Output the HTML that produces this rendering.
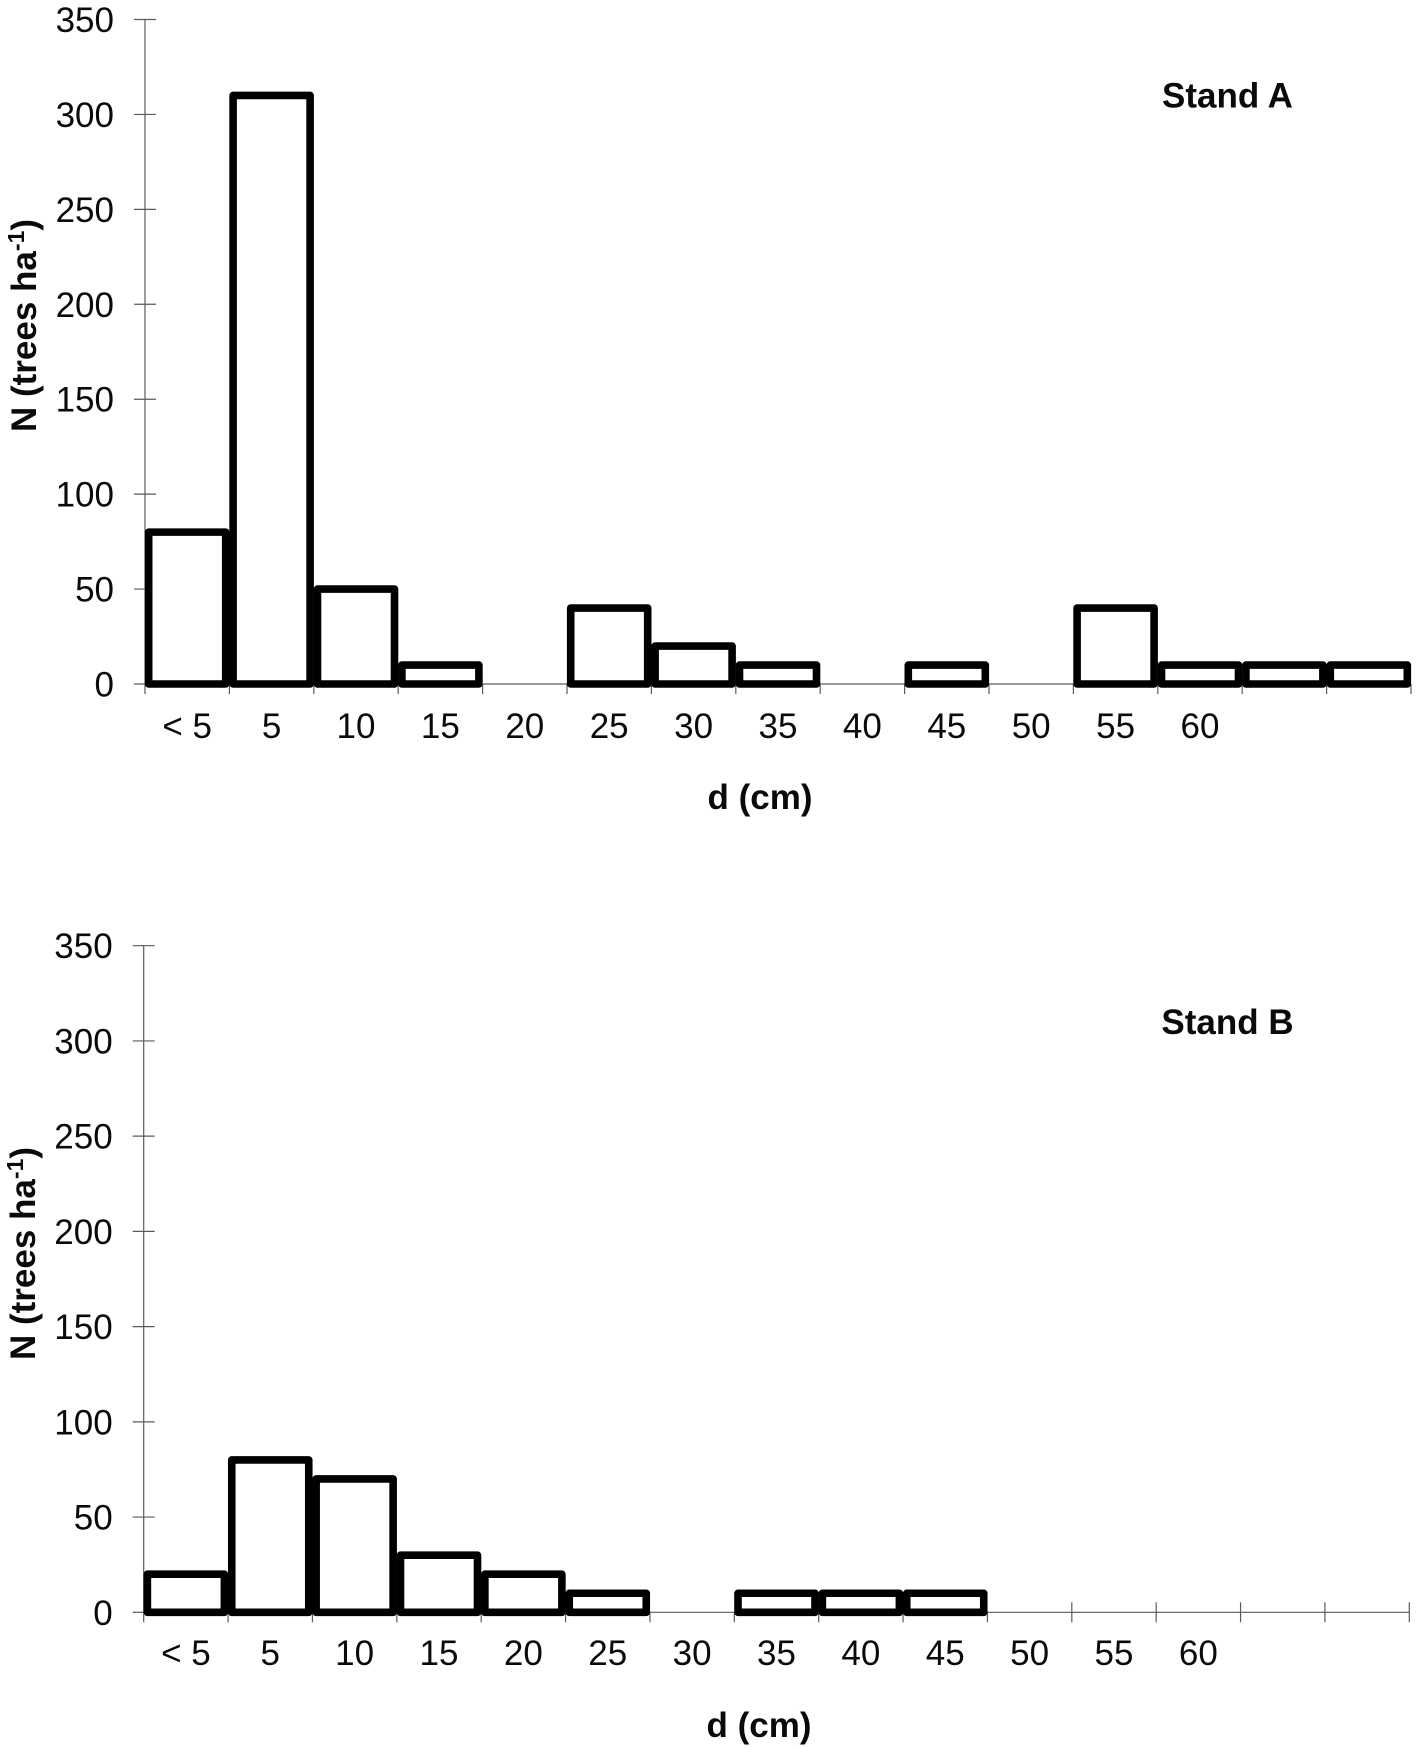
<!DOCTYPE html>
<html lang="en">
<head>
<meta charset="utf-8">
<title>Diameter distribution for Stand A and Stand B</title>
<style>
  html, body { margin: 0; padding: 0; background: #fff; }
  svg { display: block; }
  text { font-family: "Liberation Sans", Arial, sans-serif; fill: #0a0a0a; }
  .tick-label { font-size: 35px; }
  .title { font-size: 35px; font-weight: bold; }
</style>
</head>
<body>
<svg id="chart" xmlns="http://www.w3.org/2000/svg" width="1418" height="1749" viewBox="0 0 1418 1749">
  <rect x="0" y="0" width="1418" height="1749" fill="#ffffff"/>
  <g id="panel-a">
    <text class="title" x="1227.5" y="107.5" text-anchor="middle">Stand A</text>
    <text class="title" x="760" y="809" text-anchor="middle">d (cm)</text>
    <text class="title" transform="translate(36 432) rotate(-90)">N (trees ha<tspan font-size="23" dy="-12">-1</tspan><tspan dy="12">)</tspan></text>
  </g>
  <g id="panel-b">
    <text class="title" x="1227.5" y="1034" text-anchor="middle">Stand B</text>
    <text class="title" x="759" y="1737" text-anchor="middle">d (cm)</text>
    <text class="title" transform="translate(35 1360) rotate(-90)">N (trees ha<tspan font-size="23" dy="-12">-1</tspan><tspan dy="12">)</tspan></text>
  </g>
</svg>
<script>
const categories = ["< 5", "5", "10", "15", "20", "25", "30", "35", "40", "45", "50", "55", "60", "", ""];
const yTicks = [0, 50, 100, 150, 200, 250, 300, 350];
const standAValues = [80, 310, 50, 10, 0, 40, 20, 10, 0, 10, 0, 40, 10, 10, 10];
const standBValues = [20, 80, 70, 30, 20, 10, 0, 10, 10, 10, 0, 0, 0, 0, 0];

const SVG_NS = "http://www.w3.org/2000/svg";
const yMax = 350;

function makeLine(parent, x1, y1, x2, y2) {
  const line = document.createElementNS(SVG_NS, "line");
  line.setAttribute("x1", x1);
  line.setAttribute("y1", y1);
  line.setAttribute("x2", x2);
  line.setAttribute("y2", y2);
  line.setAttribute("stroke", "#5a5a5a");
  line.setAttribute("stroke-width", "1.2");
  parent.appendChild(line);
  return line;
}

function drawPanel(parent, prefix, values, left, right, top, bottom, labelBaseline, crossFromIndex) {
  const bandWidth = (right - left) / categories.length;
  const barWidth = 77;
  const xBand = function (i) { return left + i * bandWidth; };
  const yScale = function (v) { return bottom - (v / yMax) * (bottom - top); };

  const yAxis = makeLine(parent, left, top, left, bottom);
  
  

  const xAxis = makeLine(parent, left, bottom, right, bottom);
  
  

  yTicks.forEach(function (v) {
    const y = yScale(v);
    const tick = makeLine(parent, left - 11, y, left + 11, y);
    
    
    if (v === 0) { tick.setAttribute("x2", left); }

    const label = document.createElementNS(SVG_NS, "text");
    
    
    label.setAttribute("class", "tick-label");
    label.setAttribute("x", left - 31);
    label.setAttribute("y", y + 12.5);
    label.setAttribute("text-anchor", "end");
    label.textContent = String(v);
    parent.appendChild(label);
  });

  for (let i = 0; i <= categories.length; i++) {
    const tickTop = i >= crossFromIndex ? bottom - 10 : bottom;
    const tick = makeLine(parent, xBand(i), tickTop, xBand(i), bottom + 10);
    
    
  }

  categories.forEach(function (c, i) {
    if (c === "") { return; }
    const label = document.createElementNS(SVG_NS, "text");
    
    
    label.setAttribute("class", "tick-label");
    label.setAttribute("x", xBand(i) + bandWidth / 2);
    label.setAttribute("y", labelBaseline);
    label.setAttribute("text-anchor", "middle");
    label.textContent = c;
    parent.appendChild(label);
  });

  values.forEach(function (v, i) {
    if (v === 0) { return; }
    const bar = document.createElementNS(SVG_NS, "rect");
    
    
    bar.setAttribute("x", xBand(i) + (bandWidth - barWidth) / 2);
    bar.setAttribute("y", yScale(v));
    bar.setAttribute("width", barWidth);
    bar.setAttribute("height", bottom - yScale(v));
    bar.setAttribute("fill", "#ffffff");
    bar.setAttribute("stroke", "#000000");
    bar.setAttribute("stroke-width", "7.6");
    bar.setAttribute("stroke-linejoin", "round");
    parent.appendChild(bar);
  });
}

drawPanel(document.getElementById("panel-a"), "stand-a", standAValues, 145, 1411, 19.5, 684, 738, 99);
drawPanel(document.getElementById("panel-b"), "stand-b", standBValues, 143.7, 1409.3, 945.7, 1612.3, 1665, 11);
</script>
</body>
</html>
